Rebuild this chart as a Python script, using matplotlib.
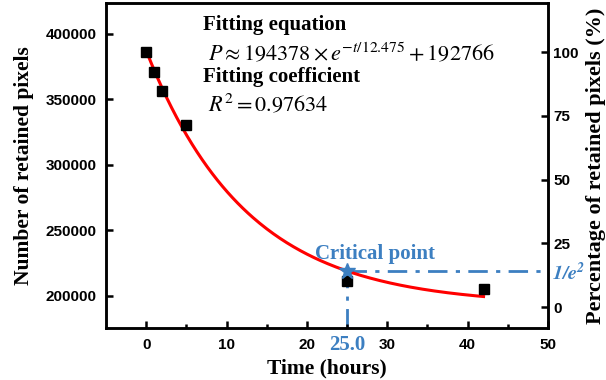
import numpy as np
import matplotlib
matplotlib.use("Agg")
import matplotlib.pyplot as plt
from matplotlib.transforms import blended_transform_factory

# measured data
hours = [0, 1, 2, 5, 25, 42]
pixels = [386200, 371200, 356500, 330500, 211500, 205300]

# fitted model P = A*exp(-t/tau) + P0
fit_A = 194378
fit_tau = 12.475
fit_P0 = 192766
r_squared = 0.97634
t_critical = 25.0

x_ticks = [0, 10, 20, 30, 40, 50]
y_ticks = [200000, 250000, 300000, 350000, 400000]
pct_ticks = [0, 25, 50, 75, 100]

blue = "#3c7fc1"
plt.rcParams["mathtext.fontset"] = "stix"
serif = "Liberation Serif"


def model(t):
    return fit_A * np.exp(-t / fit_tau) + fit_P0


fig = plt.figure(figsize=(6.06, 3.8), dpi=100)
ax = fig.add_axes([0.175, 0.137, 0.729, 0.855])

t = np.linspace(0, max(hours), 200)
ax.plot(t, model(t), color="red", lw=2.2, zorder=2)
ax.plot(hours, pixels, "s", color="black", ms=7, zorder=3)

# critical point
yc = model(t_critical)
ax.plot([t_critical, 50], [yc, yc], color=blue, lw=2, ls=(0, (7, 3, 1.5, 3)), zorder=1)
ax.plot([t_critical, t_critical], [175500, yc], color=blue, lw=2, ls=(0, (7, 3, 1.5, 3)), zorder=1)
ax.plot([t_critical], [yc], "*", color=blue, ms=12, zorder=4)
ax.text(21, yc + 5000, "Critical point", color=blue, fontsize=15, fontweight="bold",
        family=serif, ha="left", va="bottom")
ax.text(t_critical, 175500 - 5500, "%.1f" % t_critical, color=blue, fontsize=15,
        fontweight="bold", family=serif, ha="center", va="top")

ax.set_xlim(-5, 50)
ax.set_ylim(175500, 423500)
ax.set_xticks(x_ticks)
ax.set_xticks(np.arange(5, 50, 10), minor=True)
ax.set_yticks(y_ticks)

ax.set_xlabel("Time (hours)", fontsize=15.5, fontweight="bold", family=serif, labelpad=5)
ax.set_ylabel("Number of retained pixels", fontsize=15.5, fontweight="bold",
              family=serif, labelpad=8)

# annotation text
tx = ax.transAxes
ax.text(0.219, 0.932, "Fitting equation", transform=tx, fontsize=15, fontweight="bold",
        family=serif, va="center")
ax.text(0.231, 0.849, r"$P\approx 194378\times e^{-t/12.475}+192766$", transform=tx,
        fontsize=16, va="center")
ax.text(0.219, 0.772, "Fitting coefficient", transform=tx, fontsize=15, fontweight="bold",
        family=serif, va="center")
ax.text(0.231, 0.692, r"$R^2=%.5f$" % r_squared, transform=tx, fontsize=16, va="center")

ax2 = ax.twinx()
ax2.set_ylim(-8.2, 119.2)
ax2.set_yticks(pct_ticks)
ax2.set_ylabel("Percentage of retained pixels (%)", fontsize=16, fontweight="bold",
               family=serif, labelpad=5)
pct_c = (yc - fit_P0) / fit_A * 100
ax2.text(1.01, pct_c, r"$\mathbfit{1/e^{2}}$", color=blue, fontsize=14.5,
         va="center", ha="left",
         transform=blended_transform_factory(ax2.transAxes, ax2.transData))

for a in (ax, ax2):
    for s in a.spines.values():
        s.set_linewidth(1.8)
    a.tick_params(which="major", direction="in", length=5, width=1.8, labelsize=11)
    a.tick_params(which="minor", direction="in", length=3, width=1.8)
    for lab in a.get_xticklabels() + a.get_yticklabels():
        lab.set_fontweight("bold")
        lab.set_family("Liberation Sans")
ax2.tick_params(axis="y", pad=4)
ax.tick_params(axis="x", pad=7)
ax.tick_params(axis="y", pad=7)

fig.savefig("out.png", dpi=100)
